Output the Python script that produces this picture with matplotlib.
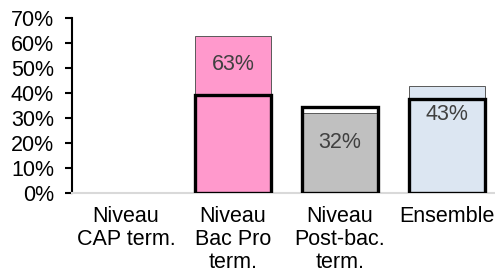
import numpy as np
import matplotlib.pyplot as plt
from matplotlib.ticker import PercentFormatter

plt.rcParams['font.family'] = ['Liberation Sans', 'DejaVu Sans']

categories = ['Niveau\nCAP term.', 'Niveau\nBac Pro\nterm.', 'Niveau\nPost-bac.\nterm.', 'Ensemble']
values = [np.nan, 63, 32, 43]          # filled bars (%)
reference = [np.nan, 39.2, 34.4, 37.6]  # black outline bars (%)
colors = ['#FF99CC', '#FF99CC', '#C0C0C0', '#DCE6F2']

fig = plt.figure(figsize=(4.95, 2.77), dpi=100)
ax = fig.add_axes([0.1455, 0.3032, 0.8545, 0.6318])

x = np.arange(len(categories))
w = 0.71
ax.bar(x, values, width=w, color=colors, edgecolor='#595959', linewidth=0.7, zorder=2)
ax.bar(x, reference, width=w, facecolor='none', edgecolor='black', linewidth=2.4, zorder=3)

for xi, v in zip(x, values):
    if np.isnan(v):
        continue
    ax.annotate(f'{v:.0f}%', (xi, v), xytext=(0, -21), textcoords='offset points',
                ha='center', va='center', fontsize=15.5, color='#404040', zorder=4)

ax.set_ylim(0, 70)
ax.set_yticks(range(0, 71, 10))
ax.yaxis.set_major_formatter(PercentFormatter(decimals=0))
ax.set_xlim(-0.505, 3.45)
ax.set_xticks(x)
ax.set_xticklabels(categories, fontsize=15.5, va='top', linespacing=1.15)
ax.tick_params(axis='x', length=0, pad=9)
ax.tick_params(axis='y', labelsize=15.5, length=5, width=1.5, direction='out', pad=8)

ax.spines['top'].set_visible(False)
ax.spines['right'].set_visible(False)
ax.spines['left'].set_linewidth(1.5)
ax.spines['bottom'].set_color('#D9D9D9')
ax.spines['bottom'].set_linewidth(1.5)

fig.savefig('out.png', dpi=100)
